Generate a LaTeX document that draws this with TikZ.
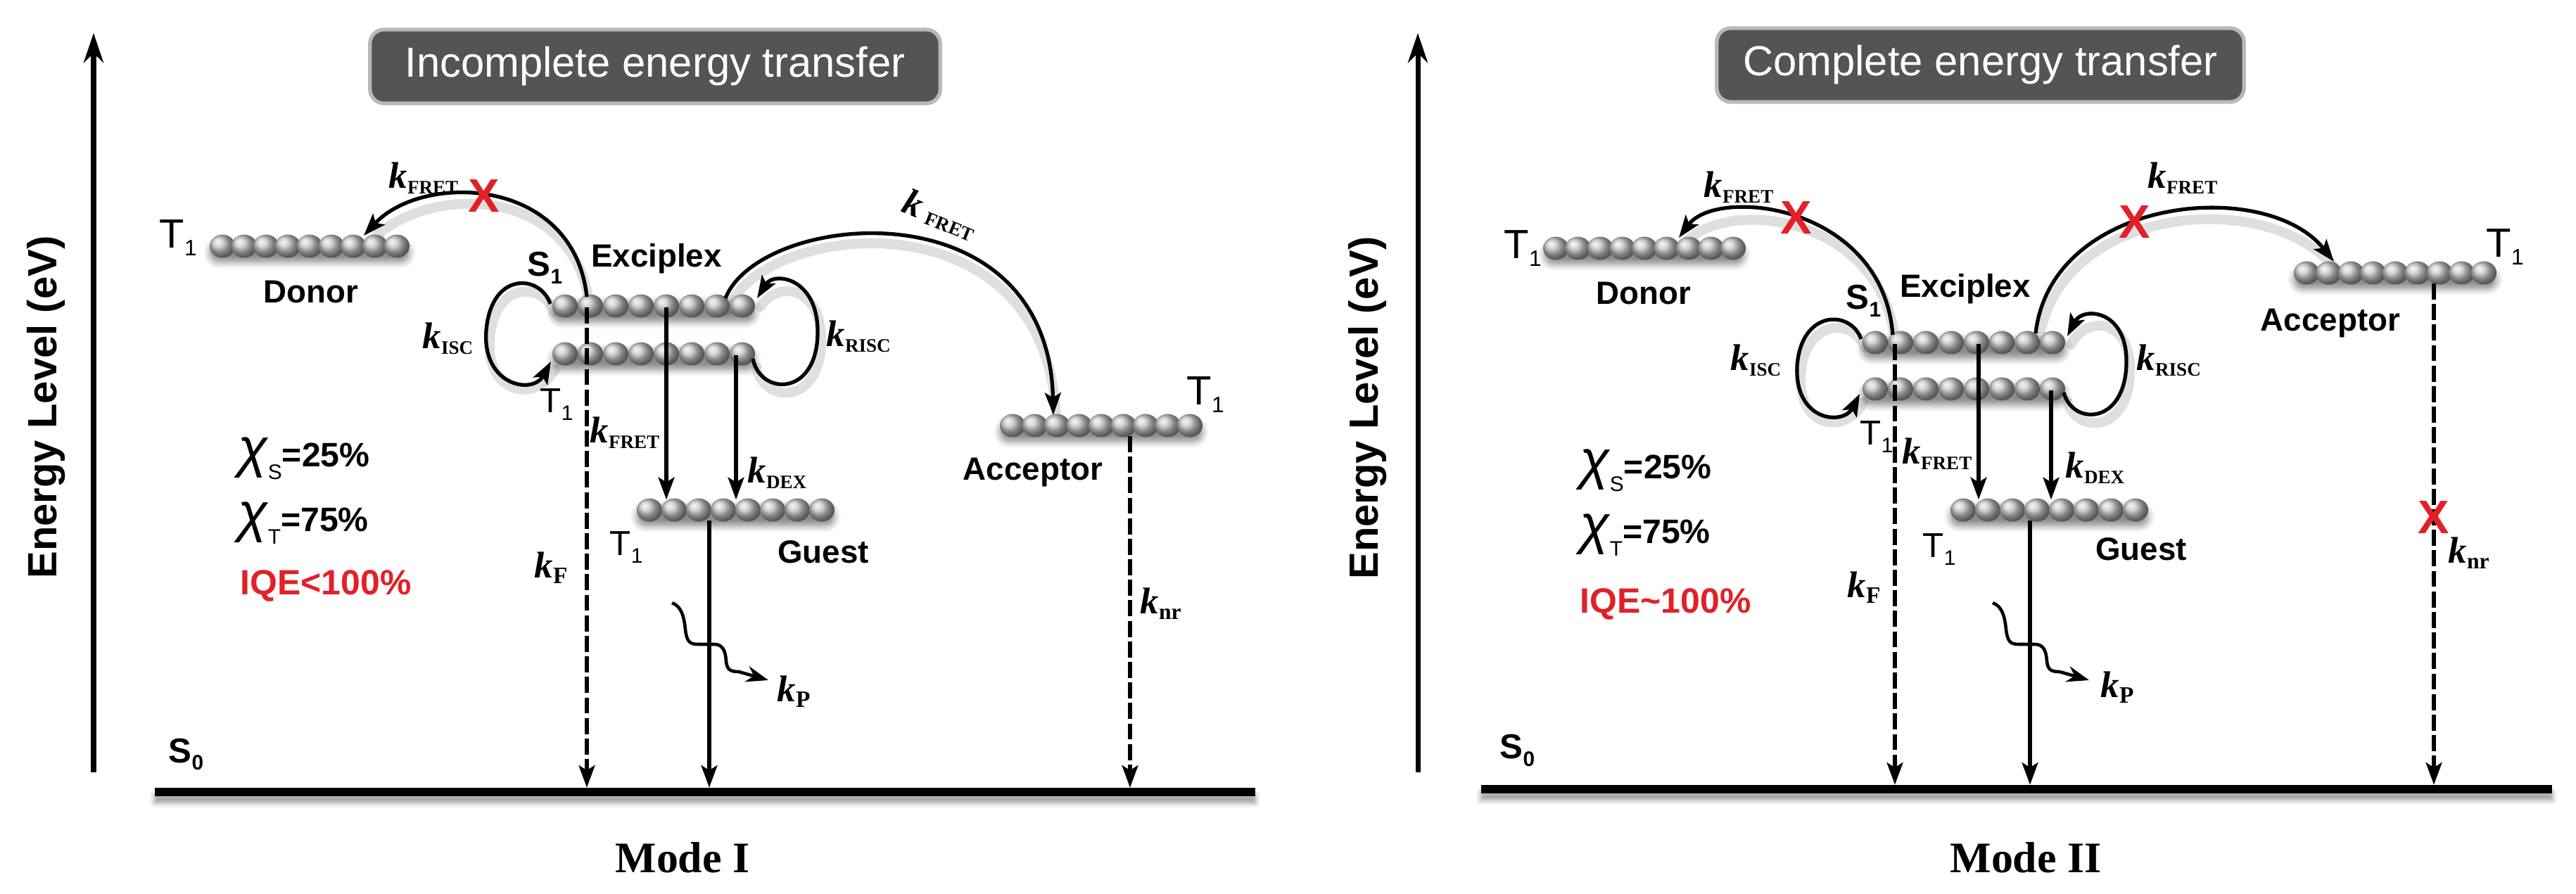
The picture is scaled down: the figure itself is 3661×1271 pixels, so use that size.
\documentclass[tikz,border=0pt]{standalone}
\usepackage{fontspec}
\setmainfont{Liberation Serif}
\setsansfont{Liberation Sans}
\usetikzlibrary{arrows.meta,shadows.blur,calc}
\definecolor{xred}{RGB}{226,32,40}
\definecolor{titlegray}{RGB}{84,84,84}
\newcommand{\lv}[4]{{\fontsize{#1}{#1}\selectfont #3}\raisebox{-3pt}{\fontsize{#2}{#2}\selectfont #4}}
\newcommand{\kk}[2][7.7pt]{{\fontsize{15pt}{15pt}\selectfont\rmfamily\bfseries\itshape k}\raisebox{-2pt}{\fontsize{#1}{#1}\selectfont\rmfamily\bfseries #2}}
\newcommand{\kkr}[1]{{\fontsize{15pt}{15pt}\selectfont\rmfamily\bfseries\itshape k}\kern3pt\raisebox{-1pt}{\fontsize{7.7pt}{7.7pt}\selectfont\rmfamily\bfseries #1}}
\newcommand{\chiv}[2]{{\fontsize{22pt}{22pt}\selectfont\itshape χ}\raisebox{-5pt}{\fontsize{8.5pt}{8.5pt}\selectfont #1}{\fontsize{13.7pt}{13.7pt}\selectfont\bfseries #2}}
\newcommand{\ballrow}[4]{\foreach \i in {0,...,#3}{\shade[ball color=gray!45] (#1+\i*#4,#2) ellipse[x radius=0.18cm,y radius=0.165cm];}}
\begin{document}
\begin{tikzpicture}[x=0.01cm,y=-0.01cm,
  lab/.style={font=\sffamily\bfseries\fontsize{13pt}{13pt}\selectfont, inner sep=0, anchor=base},
  lvl/.style={font=\sffamily, inner sep=0, anchor=base west},
  klab/.style={inner sep=0, anchor=base west},
  eq/.style={font=\sffamily, inner sep=0, anchor=base west},
  iqe/.style={text=xred, font=\sffamily\bfseries\fontsize{14.2pt}{14.2pt}\selectfont},
  cross/.style={text=xred, font=\sffamily\bfseries\fontsize{19pt}{19pt}\selectfont, inner sep=0},
  conn/.style={line width=1.5pt, -{Stealth[length=9pt,width=6.5pt,inset=2pt]}},
  dconn/.style={conn, dash pattern=on 6.5pt off 1.8pt},
  shad/.style={line width=4pt, gray!25, line cap=round},
  rowbox/.style={inner sep=0, minimum height=0.28cm, minimum width=#1, rounded corners=0.13cm, blur shadow={shadow xshift=0pt, shadow yshift=-0.09cm, shadow blur radius=0.09cm, shadow opacity=45}},
  groundline/.style={inner sep=0, fill=black, minimum height=0.11cm, minimum width=#1, blur shadow={shadow xshift=0pt, shadow yshift=-0.1cm, shadow blur radius=0.07cm, shadow opacity=40}},
  titlebox/.style={fill=titlegray, draw=gray!55, line width=1.5pt, rounded corners=0.2cm, text=white, font=\sffamily\fontsize{17pt}{17pt}\selectfont, inner sep=0, minimum height=1.05cm, minimum width=#1},
  axisarrow/.style={line width=2pt, -{Stealth[length=12pt,width=8pt]}},
  energy/.style={font=\sffamily\bfseries\fontsize{16.5pt}{16.5pt}\selectfont, inner sep=0, rotate=90, anchor=base},
  modelab/.style={font=\rmfamily\bfseries\fontsize{17.6pt}{17.6pt}\selectfont, inner sep=0, anchor=base},
  wavy/.style={line width=1.3pt, -{Stealth[length=9pt,width=6.5pt]}}
]
\useasboundingbox (0,0) rectangle (3661,1271);

% titles
\node[titlebox=8.10cm] (titleI) at (931,94.5) {Incomplete energy transfer};
\node[titlebox=7.49cm] (titleII) at (2814.5,92.5) {Complete energy transfer};

% axes
\coordinate (axIb) at (133,1098); \coordinate (axIt) at (133,47);
\draw[axisarrow] (axIb) -- (axIt);
\node[energy] (enI) at (80,579) {Energy Level (eV)};
\coordinate (axIIb) at (2015,1098); \coordinate (axIIt) at (2015,47);
\draw[axisarrow] (axIIb) -- (axIIt);
\node[energy] (enII) at (1958,580) {Energy Level (eV)};

% ground lines
\node[groundline=15.64cm] (s0I) at (1002,1126) {};
\node[groundline=15.22cm] (s0II) at (2866,1122) {};

% arc shadows
\draw[shad] (838,437) .. controls (819,262) and (604,257) .. (521,348);
\draw[shad] (1035,440) .. controls (1084,312) and (1494,272) .. (1501,600);
\draw[shad] (787,444) .. controls (773,402) and (703,397) .. (696,482) .. controls (690,560) and (762,574) .. (788,526);
\draw[shad] (1075,522) .. controls (1085,574) and (1165,577) .. (1167,487) .. controls (1169,407) and (1105,397) .. (1081,436);
\draw[shad] (2694,492) .. controls (2679,302) and (2444,277) .. (2390,351);
\draw[shad] (2897,490) .. controls (2919,292) and (3224,262) .. (3321,384);
\draw[shad] (2650,494) .. controls (2635,452) and (2565,452) .. (2559,532) .. controls (2555,612) and (2625,617) .. (2648,572);
\draw[shad] (2938,570) .. controls (2950,617) and (3025,617) .. (3027,529) .. controls (3029,452) and (2965,447) .. (2943,490);

% level rows, panel I
\node[rowbox=2.84cm] (donI) at (440,350) {};
\node[rowbox=2.88cm] (exSI) at (929,435) {};
\node[rowbox=2.88cm] (exTI) at (929,503) {};
\node[rowbox=2.81cm] (guestI) at (1045.5,725) {};
\node[rowbox=2.88cm] (accI) at (1565,605) {};
\ballrow{316}{350}{8}{31}
\ballrow{803}{435}{7}{36}
\ballrow{803}{503}{7}{36}
\ballrow{923}{725}{7}{35}
\ballrow{1439}{605}{8}{31.5}

% level rows, panel II
\node[rowbox=2.84cm] (donII) at (2337,353) {};
\node[rowbox=2.88cm] (exSII) at (2791,487) {};
\node[rowbox=2.88cm] (exTII) at (2791,553) {};
\node[rowbox=2.81cm] (guestII) at (2912.5,725) {};
\node[rowbox=2.88cm] (accII) at (3404,388) {};
\ballrow{2211}{353}{8}{31.5}
\ballrow{2665}{487}{7}{36}
\ballrow{2665}{553}{7}{36}
\ballrow{2790}{725}{7}{35}
\ballrow{3278}{388}{8}{31.5}

% connectors panel I
\coordinate (aIs) at (834,422); \coordinate (aIe) at (517,335);
\draw[conn] (aIs) .. controls (815,250) and (600,245) .. (aIe) node[cross,pos=0.53] (xI) {X};
\coordinate (bIs) at (1031,424); \coordinate (bIe) at (1497,590);
\draw[conn] (bIs) .. controls (1080,300) and (1490,260) .. (bIe);
\coordinate (iscIs) at (782,432); \coordinate (iscIe) at (783,514);
\draw[conn] (iscIs) .. controls (768,390) and (698,385) .. (691,470) .. controls (685,548) and (757,562) .. (iscIe);
\coordinate (riscIs) at (1070,510); \coordinate (riscIe) at (1076,424);
\draw[conn] (riscIs) .. controls (1080,562) and (1160,565) .. (1162,475) .. controls (1164,395) and (1100,385) .. (riscIe);
\coordinate (fvI) at (947,437); \draw[conn] (fvI) -- (fvI |- guestI.north);
\coordinate (dxI) at (1046,505); \draw[conn] (dxI) -- (dxI |- guestI.north);
\coordinate (emI) at (1008,740); \draw[conn] (emI) -- (emI |- s0I.north);
\coordinate (kfdI) at (834,437); \draw[dconn] (kfdI) -- (kfdI |- s0I.north);
\coordinate (nrI) at (1606,620); \draw[dconn] (nrI) -- (nrI |- s0I.north);
\draw[wavy] (955,857) .. controls (968,862) and (972,875) .. (974,895) .. controls (976,912) and (980,916) .. (992,916) -- (1015,916) .. controls (1027,916) and (1031,925) .. (1032,940) .. controls (1033,952) and (1038,955) .. (1050,955) -- (1092,967);

% connectors panel II
\coordinate (aIIs) at (2690,476); \coordinate (aIIe) at (2386,338);
\draw[conn] (aIIs) .. controls (2675,290) and (2440,265) .. (aIIe) node[cross,pos=0.5] (xII1) {X};
\coordinate (bIIs) at (2893,474); \coordinate (bIIe) at (3317,372);
\draw[conn] (bIIs) .. controls (2915,280) and (3220,250) .. (bIIe) node[cross,pos=0.42] (xII2) {X};
\coordinate (iscIIs) at (2645,482); \coordinate (iscIIe) at (2643,560);
\draw[conn] (iscIIs) .. controls (2630,440) and (2560,440) .. (2554,520) .. controls (2550,600) and (2620,605) .. (iscIIe);
\coordinate (riscIIs) at (2933,558); \coordinate (riscIIe) at (2938,478);
\draw[conn] (riscIIs) .. controls (2945,605) and (3020,605) .. (3022,517) .. controls (3024,440) and (2960,435) .. (riscIIe);
\coordinate (fvII) at (2812,489); \draw[conn] (fvII) -- (fvII |- guestII.north);
\coordinate (dxII) at (2915,555); \draw[conn] (dxII) -- (dxII |- guestII.north);
\coordinate (emII) at (2885,740); \draw[conn] (emII) -- (emII |- s0II.north);
\coordinate (kfdII) at (2693,489); \draw[dconn] (kfdII) -- (kfdII |- s0II.north);
\coordinate (nrII) at (3459,403); \draw[dconn] (nrII) -- (nrII |- s0II.north) node[cross,pos=0.466] (xII3) {X};
\draw[wavy] (2832,857) .. controls (2845,862) and (2849,875) .. (2851,895) .. controls (2853,912) and (2857,916) .. (2869,916) -- (2892,916) .. controls (2904,916) and (2908,925) .. (2909,940) .. controls (2910,952) and (2915,955) .. (2927,955) -- (2969,967);

% labels panel I
\node[lab] (donLI) at (442,431) {Donor};
\node[lab] (excLI) at (933,380) {Exciplex};
\node[lab] (guestLI) at (1170,801) {Guest};
\node[lab] (accLI) at (1468,683) {Acceptor};
\node[lvl] (t1dI) at (226,353) {\lv{16.5pt}{9pt}{T}{1}};
\node[lvl] (t1aI) at (1686,576) {\lv{16.5pt}{9pt}{T}{1}};
\node[lvl] (s1I) at (749,393) {\bfseries\lv{14pt}{8.5pt}{S}{1}};
\node[lvl] (t1eI) at (767,587) {\lv{14pt}{8.5pt}{T}{1}};
\node[lvl] (t1gI) at (866,790) {\lv{14pt}{8.5pt}{T}{1}};
\node[lvl] (s0LI) at (239,1084) {\bfseries\lv{14pt}{8.5pt}{S}{0}};
\node[klab] (kfrI1) at (552,268) {\kk{FRET}};
\node[klab, rotate=-22] (kfrI2) at (1279,300) {\kkr{FRET}};
\node[klab] (kiscI) at (600,496) {\kk{ISC}};
\node[klab] (kriscI) at (1174,493) {\kk{RISC}};
\node[klab] (kfrI3) at (838,630) {\kk{FRET}};
\node[klab] (kdexI) at (1062,687) {\kk{DEX}};
\node[klab] (kfI) at (759,822) {\kk[9.5pt]{F}};
\node[klab] (kpI) at (1104,998) {\kk[9.5pt]{P}};
\node[klab] (knrI) at (1620,873) {\kk[9pt]{nr}};
\node[eq] (xsI) at (338,664) {\chiv{S}{=25\%}};
\node[eq] (xtI) at (338,756) {\chiv{T}{=75\%}};
\node[eq, iqe] (iqeI) at (341,846) {IQE<100\%};
\node[modelab] (modeI) at (970,1240) {Mode I};

% labels panel II
\node[lab] (donLII) at (2336,433) {Donor};
\node[lab] (excLII) at (2793,423) {Exciplex};
\node[lab] (guestLII) at (3043,797) {Guest};
\node[lab] (accLII) at (3312,471) {Acceptor};
\node[lvl] (t1dII) at (2137,368) {\lv{16.5pt}{9pt}{T}{1}};
\node[lvl] (t1aII) at (3533,366) {\lv{16.5pt}{9pt}{T}{1}};
\node[lvl] (s1II) at (2623,440) {\bfseries\lv{14pt}{8.5pt}{S}{1}};
\node[lvl] (t1eII) at (2643,633) {\lv{14pt}{8.5pt}{T}{1}};
\node[lvl] (t1gII) at (2732,793) {\lv{14pt}{8.5pt}{T}{1}};
\node[lvl] (s0LII) at (2131,1079) {\bfseries\lv{14pt}{8.5pt}{S}{0}};
\node[klab] (kfrII1) at (2421,281) {\kk{FRET}};
\node[klab] (kfrII2) at (3052,268) {\kk{FRET}};
\node[klab] (kiscII) at (2459,527) {\kk{ISC}};
\node[klab] (kriscII) at (3036,527) {\kk{RISC}};
\node[klab] (kfrII3) at (2703,660) {\kk{FRET}};
\node[klab] (kdexII) at (2935,680) {\kk{DEX}};
\node[klab] (kfII) at (2625,850) {\kk[9.5pt]{F}};
\node[klab] (kpII) at (2985,992) {\kk[9.5pt]{P}};
\node[klab] (knrII) at (3479,801) {\kk[9pt]{nr}};
\node[eq] (xsII) at (2245,681) {\chiv{S}{=25\%}};
\node[eq] (xtII) at (2245,773) {\chiv{T}{=75\%}};
\node[eq, iqe] (iqeII) at (2245,872) {IQE\textasciitilde100\%};
\node[modelab] (modeII) at (2879,1240) {Mode II};
\end{tikzpicture}
\end{document}
